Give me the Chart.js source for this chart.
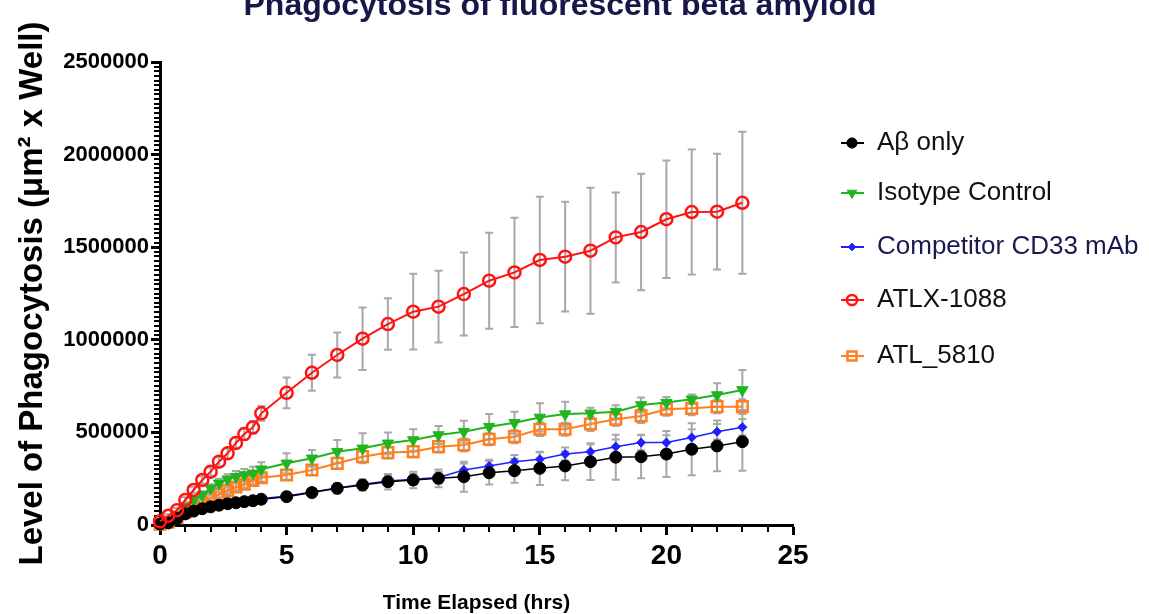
<!DOCTYPE html>
<html lang="en">
<head>
<meta charset="utf-8" />
<title>Phagocytosis of fluorescent beta amyloid</title>
<script src="https://cdn.jsdelivr.net/npm/chart.js@4.4.0/dist/chart.umd.min.js"></script>
<style>
  html, body { margin: 0; padding: 0; background: #fff; }
  #wrap { width: 1149px; height: 614px; position: relative; }
</style>
</head>
<body>
<div id="wrap"><canvas id="chart"></canvas></div>
<script>
    // time points (hrs): every 20 min up to 4 h, then hourly
    const hours = [0, 0.33, 0.67, 1, 1.33, 1.67, 2, 2.33, 2.67, 3, 3.33, 3.67, 4,
        5, 6, 7, 8, 9, 10, 11, 12, 13, 14, 15, 16, 17, 18, 19, 20, 21, 22, 23];

    const abOnly = [5000, 12000, 35000, 60000, 75000, 88000, 98000, 107000, 115000, 120000, 126000, 131000, 139000,
        153000, 175000, 198000, 216000, 234000, 243000, 252000, 261000, 282000, 293000, 306000, 319000, 342000, 366000, 369000, 383000, 409000, 427000, 450000];
    const abOnlySd = [3000, 5000, 8000, 10000, 10000, 12000, 12000, 13000, 14000, 15000, 15000, 16000, 16000,
        20000, 22000, 28000, 30000, 42000, 45000, 48000, 81000, 63000, 65000, 90000, 78000, 99000, 121000, 117000, 124000, 140000, 137000, 157000];

    const isotype = [3000, 9000, 54000, 99000, 135000, 162000, 198000, 225000, 247000, 261000, 270000, 279000, 301000,
        333000, 360000, 396000, 414000, 441000, 459000, 486000, 504000, 531000, 552000, 581000, 599000, 603000, 612000, 648000, 661000, 679000, 702000, 729000];
    const isotypeSd = [3000, 5000, 10000, 15000, 18000, 20000, 22000, 25000, 27000, 30000, 32000, 35000, 38000,
        54000, 45000, 63000, 81000, 59000, 58000, 49000, 59000, 68000, 59000, 76000, 67000, 30000, 35000, 40000, 30000, 25000, 63000, 108000];

    const competitor = [6000, 14000, 38000, 63000, 78000, 91000, 101000, 110000, 118000, 123000, 129000, 134000, 142000,
        156000, 178000, 200000, 220000, 237000, 247000, 256000, 297000, 319000, 342000, 355000, 383000, 396000, 423000, 445000, 445000, 473000, 504000, 528000];
    const competitorSd = [3000, 4000, 6000, 8000, 9000, 10000, 10000, 11000, 12000, 12000, 13000, 13000, 14000,
        18000, 20000, 22000, 25000, 28000, 30000, 32000, 35000, 33000, 36000, 38000, 36000, 40000, 38000, 42000, 40000, 44000, 42000, 45000];

    const atlx1088 = [20000, 50000, 80000, 135000, 189000, 243000, 288000, 342000, 387000, 443000, 491000, 527000, 603000,
        714000, 822000, 918000, 1006000, 1085000, 1152000, 1179000, 1247000, 1319000, 1364000, 1431000, 1449000, 1481000, 1553000, 1582000, 1651000, 1690000, 1692000, 1740000];
    const atlx1088Sd = [5000, 8000, 12000, 15000, 18000, 20000, 22000, 25000, 28000, 30000, 32000, 35000, 40000,
        83000, 97000, 121000, 169000, 139000, 205000, 194000, 224000, 259000, 295000, 342000, 296000, 340000, 243000, 315000, 317000, 337000, 312000, 384000];

    const atl5810 = [5000, 15000, 40000, 70000, 95000, 120000, 145000, 165000, 185000, 205000, 220000, 240000, 255000,
        270000, 297000, 333000, 369000, 391000, 396000, 423000, 432000, 463000, 477000, 517000, 517000, 545000, 571000, 589000, 625000, 630000, 639000, 639000];
    const atl5810Sd = [3000, 5000, 8000, 10000, 12000, 14000, 15000, 16000, 18000, 20000, 20000, 22000, 22000,
        25000, 27000, 30000, 30000, 32000, 30000, 32000, 35000, 33000, 35000, 36000, 35000, 38000, 36000, 38000, 35000, 38000, 36000, 40000];

    const xMinorStep = 1;
    const yMinorStep = 25000;
    const legendRows = [143, 193, 247, 300, 356];

    const FONT = "'Liberation Sans', Arial, Helvetica, sans-serif";
    Chart.defaults.font.family = FONT;

    const toPoints = vals => hours.map((h, i) => ({ x: h, y: vals[i] }));

    // grey SD bars behind the lines
    const errorBars = {
        id: 'errorBars',
        beforeDatasetsDraw(chart) {
            const ctx = chart.ctx;
            const yScale = chart.scales.y;
            ctx.save();
            ctx.strokeStyle = '#a8a8a8';
            ctx.lineWidth = 2;
            chart.data.datasets.forEach((ds, i) => {
                const meta = chart.getDatasetMeta(i);
                meta.data.forEach((pt, j) => {
                    const sd = ds.sd[j];
                    if (!sd) return;
                    const top = yScale.getPixelForValue(ds.data[j].y + sd);
                    const bot = yScale.getPixelForValue(ds.data[j].y - sd);
                    ctx.beginPath();
                    ctx.moveTo(pt.x, top);
                    ctx.lineTo(pt.x, bot);
                    ctx.moveTo(pt.x - 4, top);
                    ctx.lineTo(pt.x + 4, top);
                    ctx.moveTo(pt.x - 4, bot);
                    ctx.lineTo(pt.x + 4, bot);
                    ctx.stroke();
                });
            });
            ctx.restore();
        }
    };

    const minorTicks = {
        id: 'minorTicks',
        beforeDatasetsDraw(chart) {
            const { ctx, chartArea, scales: { x, y } } = chart;
            ctx.save();
            ctx.strokeStyle = '#000';
            ctx.lineWidth = 2;
            ctx.beginPath();
            for (let t = xMinorStep; t < 25; t += xMinorStep) {
                if (t % 5 === 0) continue;
                const px = Math.round(x.getPixelForValue(t));
                ctx.moveTo(px, chartArea.bottom);
                ctx.lineTo(px, chartArea.bottom + 7);
            }
            for (let v = yMinorStep; v < 2500000; v += yMinorStep) {
                if (v % 500000 === 0) continue;
                const py = Math.round(y.getPixelForValue(v));
                ctx.moveTo(chartArea.left, py);
                ctx.lineTo(chartArea.left - 6, py);
            }
            ctx.stroke();
            ctx.restore();
        }
    };

    const titleAndLegend = {
        id: 'titleAndLegend',
        afterDraw(chart) {
            const ctx = chart.ctx;
            ctx.save();
            // title sits partly above the top edge, as in the source
            ctx.fillStyle = '#17174a';
            ctx.font = 'bold 32px ' + FONT;
            ctx.textAlign = 'center';
            ctx.textBaseline = 'alphabetic';
            ctx.fillText('Phagocytosis of fluorescent beta amyloid', 560, 15);

            ctx.textAlign = 'left';
            ctx.textBaseline = 'middle';
            ctx.font = '26px ' + FONT;
            chart.data.datasets.forEach((ds, i) => {
                const ry = legendRows[i];
                ctx.strokeStyle = ds.borderColor;
                ctx.lineWidth = 2;
                ctx.beginPath();
                ctx.moveTo(841, ry);
                ctx.lineTo(864, ry);
                ctx.stroke();
                ctx.fillStyle = ds.pointBackgroundColor;
                ctx.strokeStyle = ds.pointBorderColor;
                ctx.lineWidth = ds.pointBorderWidth;
                Chart.helpers.drawPoint(ctx, {
                    pointStyle: ds.pointStyle,
                    radius: ds.pointRadius * 0.85,
                    rotation: ds.pointRotation || 0,
                    borderWidth: ds.pointBorderWidth
                }, 852, ry);
                ctx.fillStyle = ds.legendText;
                ctx.fillText(ds.label, 877, ry);
            });
            ctx.restore();
        }
    };

    new Chart(document.getElementById('chart'), {
        type: 'line',
        data: {
            datasets: [
                {
                    label: 'Aβ only', data: toPoints(abOnly), sd: abOnlySd, order: 1,
                    borderColor: '#000000', borderWidth: 1.5,
                    pointStyle: 'circle', pointRadius: 6, pointBackgroundColor: '#000000',
                    pointBorderColor: '#000000', pointBorderWidth: 1, legendText: '#111111'
                },
                {
                    label: 'Isotype Control', data: toPoints(isotype), sd: isotypeSd, order: 3,
                    borderColor: '#1fb51f', borderWidth: 2,
                    pointStyle: 'triangle', pointRotation: 180, pointRadius: 6.5,
                    pointBackgroundColor: '#1fb51f', pointBorderColor: '#1fb51f', pointBorderWidth: 1,
                    legendText: '#111111'
                },
                {
                    label: 'Competitor CD33 mAb', data: toPoints(competitor), sd: competitorSd, order: 2,
                    borderColor: '#1f1fff', borderWidth: 1.5,
                    pointStyle: 'rectRot', pointRadius: 4.5, pointBackgroundColor: '#1f1fff',
                    pointBorderColor: '#1f1fff', pointBorderWidth: 1, legendText: '#1a1a50'
                },
                {
                    label: 'ATLX-1088', data: toPoints(atlx1088), sd: atlx1088Sd, order: 0,
                    borderColor: '#ff1414', borderWidth: 2,
                    pointStyle: 'circle', pointRadius: 6, pointBackgroundColor: 'rgba(255,255,255,0)',
                    pointBorderColor: '#ff1414', pointBorderWidth: 2.5, legendText: '#111111'
                },
                {
                    label: 'ATL_5810', data: toPoints(atl5810), sd: atl5810Sd, order: 4,
                    borderColor: '#ff7f1e', borderWidth: 2,
                    pointStyle: 'rect', pointRadius: 7.5, pointBackgroundColor: 'rgba(255,255,255,0)',
                    pointBorderColor: '#ff7f1e', pointBorderWidth: 2.5, legendText: '#111111'
                }
            ]
        },
        options: {
            responsive: true,
            maintainAspectRatio: false,
            animation: false,
            events: [],
            layout: { padding: { left: 0, top: 62, right: 356, bottom: 0 } },
            elements: { line: { tension: 0 } },
            datasets: { line: { clip: false } },
            plugins: {
                legend: { display: false },
                tooltip: { enabled: false }
            },
            scales: {
                x: {
                    type: 'linear',
                    min: 0,
                    max: 25,
                    border: { color: '#000', width: 3 },
                    grid: { drawOnChartArea: false, tickLength: 10, tickWidth: 3, tickColor: '#000' },
                    ticks: {
                        stepSize: 5,
                        color: '#000',
                        maxRotation: 0,
                        padding: 4,
                        font: { size: 28, weight: 'bold' }
                    },
                    title: {
                        display: true,
                        text: 'Time Elapsed (hrs)',
                        color: '#000',
                        font: { size: 21, weight: 'bold', lineHeight: 1 },
                        padding: { top: 0, bottom: 0 }
                    },
                    afterFit: s => { s.height = 89; }
                },
                y: {
                    min: 0,
                    max: 2500000,
                    border: { color: '#000', width: 3 },
                    grid: { drawOnChartArea: false, tickLength: 9, tickWidth: 3, tickColor: '#000' },
                    ticks: {
                        stepSize: 500000,
                        color: '#000',
                        padding: 2,
                        font: { size: 22, weight: 'bold' },
                        callback: v => String(v)
                    },
                    title: {
                        display: true,
                        text: 'Level of Phagocytosis (μm² x Well)',
                        color: '#000',
                        font: { size: 33, weight: 'bold' },
                        padding: { top: 13, bottom: 0 }
                    },
                    afterFit: s => { s.width = 160; }
                }
            }
        },
        plugins: [errorBars, minorTicks, titleAndLegend]
    });
</script>
</body>
</html>
